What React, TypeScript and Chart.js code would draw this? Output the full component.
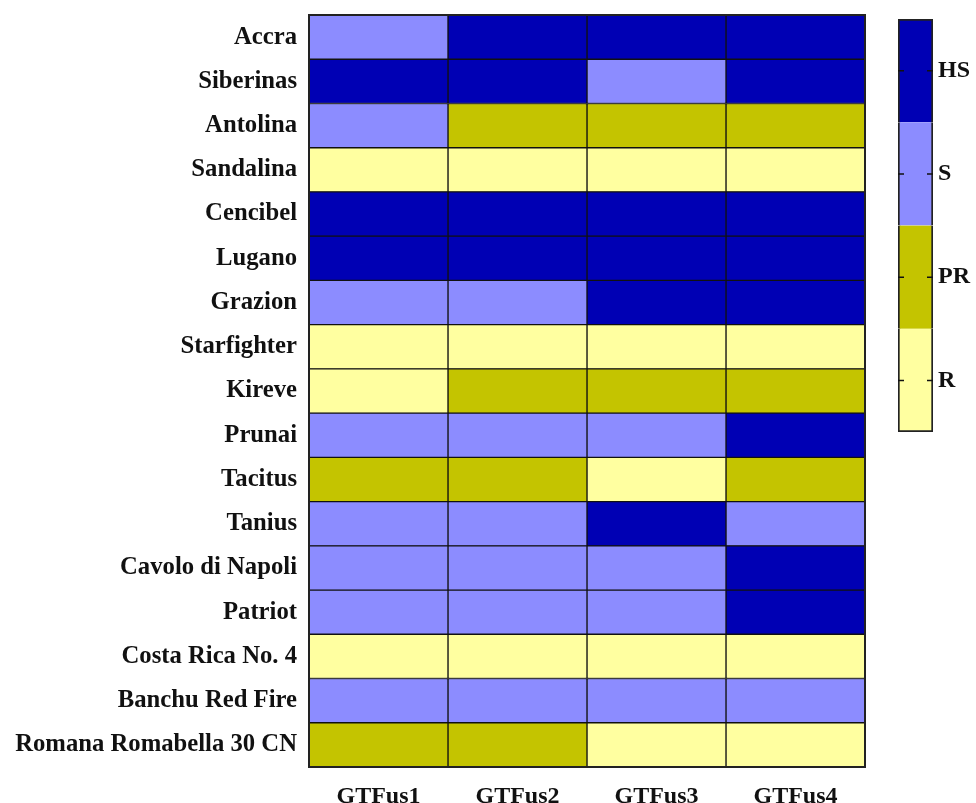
import React, { useEffect, useRef } from "react";
import { Chart, registerables } from "chart.js";

Chart.register(...registerables);

const cultivars = [
  "Accra",
  "Siberinas",
  "Antolina",
  "Sandalina",
  "Cencibel",
  "Lugano",
  "Grazion",
  "Starfighter",
  "Kireve",
  "Prunai",
  "Tacitus",
  "Tanius",
  "Cavolo di Napoli",
  "Patriot",
  "Costa Rica No. 4",
  "Banchu Red Fire",
  "Romana Romabella 30 CN",
];

const isolates = ["GTFus1", "GTFus2", "GTFus3", "GTFus4"];

// response classes: 1 = R, 2 = PR, 3 = S, 4 = HS
const GTFus1 = [3, 4, 3, 1, 4, 4, 3, 1, 1, 3, 2, 3, 3, 3, 1, 3, 2];
const GTFus2 = [4, 4, 2, 1, 4, 4, 3, 1, 2, 3, 2, 3, 3, 3, 1, 3, 2];
const GTFus3 = [4, 3, 2, 1, 4, 4, 4, 1, 2, 3, 1, 4, 3, 3, 1, 3, 1];
const GTFus4 = [4, 4, 2, 1, 4, 4, 4, 1, 2, 4, 2, 3, 4, 4, 1, 3, 1];
const seriesValues = [GTFus1, GTFus2, GTFus3, GTFus4];

const classLabels = ["R", "PR", "S", "HS"];
const classColors = ["#FFFFA0", "#C4C400", "#8C8CFF", "#0000B4"];

const FONT = "'Liberation Serif', 'Times New Roman', serif";

export default function App() {
  const mainRef = useRef<HTMLCanvasElement | null>(null);
  const barRef = useRef<HTMLCanvasElement | null>(null);

  useEffect(() => {
    if (!mainRef.current || !barRef.current) return;

    const outline = {
      id: "outline",
      afterDatasetsDraw(chart: any) {
        const { ctx, chartArea } = chart;
        ctx.save();
        ctx.strokeStyle = "#222";
        ctx.lineWidth = 2;
        ctx.strokeRect(
          chartArea.left,
          chartArea.top,
          chartArea.right - chartArea.left,
          chartArea.bottom - chartArea.top
        );
        ctx.restore();
      },
    };

    const main = new Chart(mainRef.current, {
      type: "bar",
      data: {
        labels: cultivars,
        datasets: seriesValues.map((vals, i) => ({
          label: isolates[i],
          data: vals.map(() => 1),
          backgroundColor: vals.map((v) => classColors[v - 1]),
          borderColor: "#111",
          borderWidth: 1,
          borderSkipped: false,
          barPercentage: 1,
          categoryPercentage: 1,
        })),
      },
      options: {
        indexAxis: "y",
        animation: false,
        responsive: false,
        devicePixelRatio: 1,
        layout: { padding: { left: 0, top: 15, right: 111, bottom: 0 } },
        plugins: {
          legend: { display: false },
          tooltip: { enabled: false },
        },
        scales: {
          x: {
            type: "linear",
            stacked: true,
            min: 0,
            max: 4,
            grid: { display: false, drawTicks: false },
            border: { display: false },
            afterFit: (s: any) => {
              s.height = 36;
              s.paddingLeft = 0;
              s.paddingRight = 0;
            },
            afterBuildTicks: (s: any) => {
              s.ticks = isolates.map((_, i) => ({ value: i + 0.5 }));
            },
            ticks: {
              padding: 15,
              color: "#111",
              font: { family: FONT, size: 24, weight: "bold" },
              callback: (_v: any, i: number) => isolates[i],
            },
          },
          y: {
            type: "category",
            stacked: true,
            grid: { display: false, drawTicks: false },
            border: { display: false },
            afterFit: (s: any) => {
              s.width = 309;
              s.paddingTop = 0;
              s.paddingBottom = 0;
            },
            ticks: {
              padding: 12,
              color: "#111",
              autoSkip: false,
              font: { family: FONT, size: 24.7, weight: "bold" },
            },
          },
        },
      },
      plugins: [outline],
    } as any);

    const tickMarks = {
      id: "tickMarks",
      afterDatasetsDraw(chart: any) {
        const { ctx, chartArea } = chart;
        const ys = chart.scales.y;
        ctx.save();
        ctx.strokeStyle = "#111";
        ctx.lineWidth = 1.5;
        classLabels.forEach((_, i) => {
          const y = ys.getPixelForValue(i + 0.5);
          ctx.beginPath();
          ctx.moveTo(chartArea.left, y);
          ctx.lineTo(chartArea.left + 6, y);
          ctx.moveTo(chartArea.right - 6, y);
          ctx.lineTo(chartArea.right, y);
          ctx.stroke();
        });
        ctx.restore();
      },
    };

    const bar = new Chart(barRef.current, {
      type: "bar",
      data: {
        labels: ["scale"],
        datasets: classLabels.map((lab, i) => ({
          label: lab,
          data: [1],
          backgroundColor: classColors[i],
          borderColor: "#222",
          borderWidth: {
            left: 2,
            right: 2,
            top: i === classLabels.length - 1 ? 2 : 0,
            bottom: i === 0 ? 2 : 0,
          },
          borderSkipped: false,
          barPercentage: 1,
          categoryPercentage: 1,
        })),
      },
      options: {
        animation: false,
        responsive: false,
        devicePixelRatio: 1,
        layout: { padding: { left: 18, top: 19, right: 0, bottom: 18 } },
        plugins: {
          legend: { display: false },
          tooltip: { enabled: false },
        },
        scales: {
          x: {
            display: false,
            stacked: true,
          },
          y: {
            type: "linear",
            position: "right",
            stacked: true,
            min: 0,
            max: 4,
            grid: { display: false, drawTicks: false },
            border: { display: false },
            afterFit: (s: any) => {
              s.width = 43;
              s.paddingTop = 0;
              s.paddingBottom = 0;
            },
            afterBuildTicks: (s: any) => {
              s.ticks = classLabels.map((_, i) => ({ value: i + 0.5 }));
            },
            ticks: {
              padding: 5,
              color: "#111",
              font: { family: FONT, size: 24, weight: "bold" },
              callback: (_v: any, i: number) => classLabels[i],
            },
          },
        },
      },
      plugins: [tickMarks],
    } as any);

    return () => {
      main.destroy();
      bar.destroy();
    };
  }, []);

  return (
    <div
      style={{
        position: "fixed",
        left: 0,
        top: 0,
        width: 976,
        height: 803,
        background: "#fff",
      }}
    >
      <canvas
        ref={mainRef}
        width={976}
        height={803}
        style={{ position: "absolute", left: 0, top: 0 }}
      />
      <canvas
        ref={barRef}
        width={96}
        height={450}
        style={{ position: "absolute", left: 880, top: 0 }}
      />
    </div>
  );
}
